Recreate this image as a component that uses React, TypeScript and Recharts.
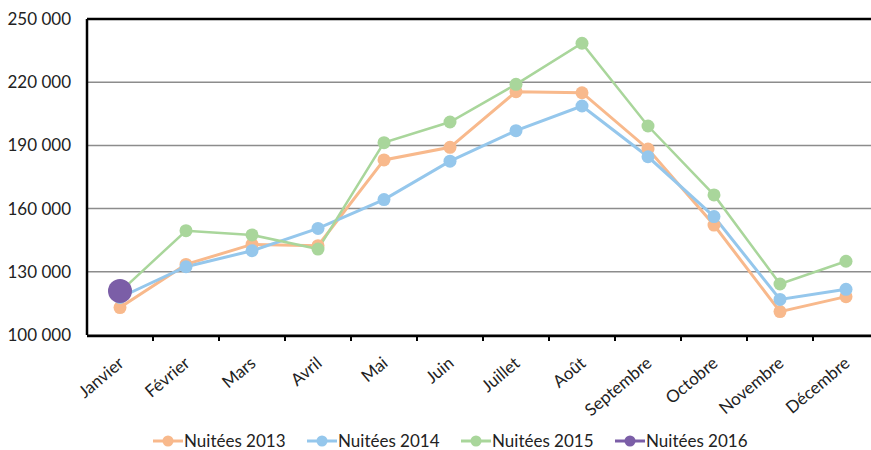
import React from 'react';
import { LineChart, Line, XAxis, YAxis, CartesianGrid, ReferenceLine, Legend } from 'recharts';

const months = ['Janvier', 'Février', 'Mars', 'Avril', 'Mai', 'Juin', 'Juillet', 'Août', 'Septembre', 'Octobre', 'Novembre', 'Décembre'];
const nuitees2013 = [113000, 133500, 143000, 142400, 183100, 189100, 215500, 215000, 188300, 152200, 111100, 118200];
const nuitees2014 = [117800, 132400, 140000, 150600, 164300, 182500, 197000, 208700, 184600, 156200, 116900, 121700];
const nuitees2015 = [120500, 149500, 147500, 140800, 191300, 201100, 219000, 238500, 199200, 166500, 124200, 135000];
const nuitees2016: (number | null)[] = [120900, null, null, null, null, null, null, null, null, null, null, null];
const yTicks = [100000, 130000, 160000, 190000, 220000, 250000];
const boundaryTicks = [1, 2, 3, 4, 5, 6, 7, 8, 9, 10, 11];

const series = [
  { key: 'n2013', name: 'Nuitées 2013', color: '#F8B98C', width: 3, r: 6.5 },
  { key: 'n2014', name: 'Nuitées 2014', color: '#95C7EC', width: 3, r: 6.5 },
  { key: 'n2015', name: 'Nuitées 2015', color: '#A9D69B', width: 2.5, r: 6.5 },
  { key: 'n2016', name: 'Nuitées 2016', color: '#7B5EA7', width: 3, r: 12 },
];

const data = months.map((m, i) => ({
  month: m,
  idx: i + 0.5,
  n2013: nuitees2013[i],
  n2014: nuitees2014[i],
  n2015: nuitees2015[i],
  n2016: nuitees2016[i],
}));

const FONT = 'Lato, "Open Sans", sans-serif';

const fmt = (v: number) => {
  const s = String(Math.round(v));
  return s.replace(/\B(?=(\d{3})+(?!\d))/g, '\u00a0');
};

const MonthTick = (props: any) => {
  const { x, y, payload } = props;
  return (
    <g transform={`translate(${x + 5},${y + 29})`}>
      <text x={0} y={0} textAnchor="end" transform="rotate(-40)" fontSize={17} fontFamily={FONT} fill="#222">
        {payload.value}
      </text>
    </g>
  );
};

const EmptyTick = () => <g />;

const LegendContent = () => (
  <div style={{ display: 'flex', height: 30, paddingTop: 12, boxSizing: 'border-box', fontFamily: FONT, fontSize: 17, color: '#222', lineHeight: '18px' }}>
    {series.map((s) => (
      <div key={s.key} style={{ width: 154, display: 'flex', alignItems: 'center' }}>
        <svg width={30} height={14} style={{ marginRight: 1 }}>
          <line x1={0} y1={7} x2={30} y2={7} stroke={s.color} strokeWidth={3} />
          <circle cx={15} cy={7} r={5.5} fill={s.color} />
        </svg>
        <span>{s.name}</span>
      </div>
    ))}
  </div>
);

export default function App() {
  return (
    <div style={{ position: 'absolute', left: 0, top: 0, width: 871, height: 450, overflow: 'hidden', background: '#fff' }}>
      <LineChart width={890} height={450} data={data} margin={{ top: 19, right: 11, bottom: 0, left: 0 }}>
        <CartesianGrid vertical={false} stroke="#8c8c8c" strokeWidth={1.5} xAxisId="b" />
        <XAxis
          xAxisId="a"
          dataKey="idx"
          type="number"
          domain={[0, 12]}
          allowDataOverflow
          ticks={boundaryTicks}
          interval={0}
          tick={<EmptyTick />}
          axisLine={false}
          tickLine={{ stroke: '#000', strokeWidth: 2 }}
          tickSize={6}
          height={1}
        />
        <XAxis
          xAxisId="b"
          dataKey="month"
          padding={{ left: 33, right: 33 }}
          axisLine={{ stroke: '#000', strokeWidth: 2.5 }}
          tickLine={false}
          tickSize={0}
          tickMargin={0}
          interval={0}
          height={84}
          tick={<MonthTick />}
        />
        <YAxis
          domain={[100000, 250000]}
          ticks={yTicks}
          tickFormatter={fmt}
          width={87}
          axisLine={{ stroke: '#000', strokeWidth: 2.5 }}
          tickLine={false}
          tickSize={0}
          tickMargin={16}
          tick={{ fontSize: 17, fontFamily: FONT, fill: '#222' }}
          interval={0}
        />
        <ReferenceLine xAxisId="b" y={250000} stroke="#000" strokeWidth={2.5} />
        {series.map((s) => (
          <Line
            key={s.key}
            xAxisId="b"
            type="linear"
            dataKey={s.key}
            name={s.name}
            stroke={s.color}
            strokeWidth={s.width}
            dot={{ r: s.r, fill: s.color, stroke: s.color, strokeWidth: 0 }}
            activeDot={false}
            isAnimationActive={false}
            connectNulls={false}
          />
        ))}
        <Legend verticalAlign="bottom" content={<LegendContent />} wrapperStyle={{ left: 153, width: 640, height: 30 }} />
      </LineChart>
    </div>
  );
}
